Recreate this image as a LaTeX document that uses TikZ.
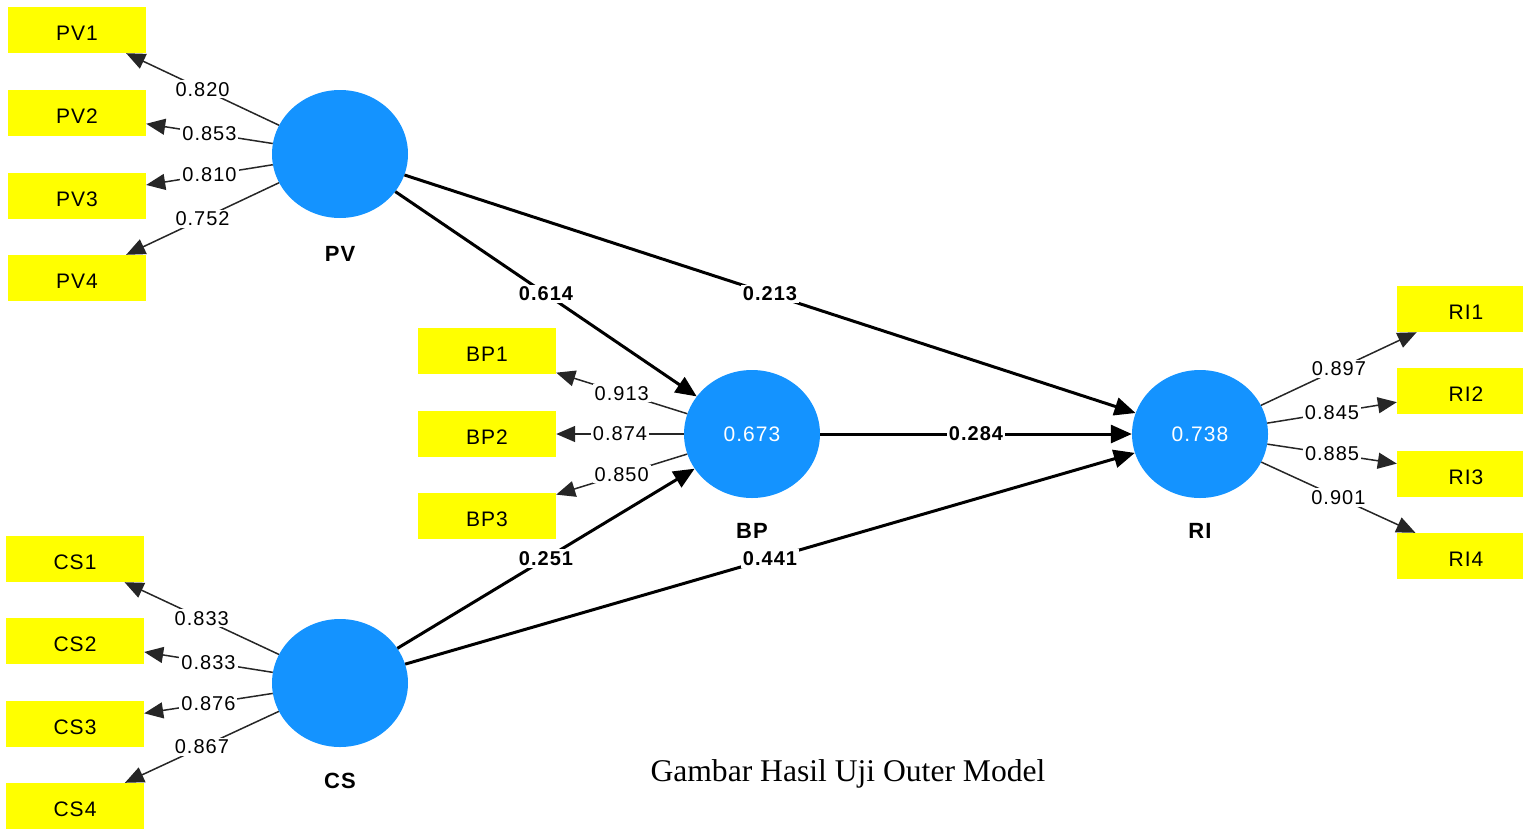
\documentclass[tikz,border=0pt]{standalone}
\usepackage{fontspec}
\setmainfont{Liberation Serif}
\newfontfamily\labfont{Liberation Sans}[LetterSpace=5]
\usetikzlibrary{shapes.geometric,arrows.meta}
\definecolor{lvblue}{RGB}{20,147,255}
\definecolor{indyel}{RGB}{255,255,0}
\tikzset{
  ind/.style={fill=indyel, minimum width=138pt, minimum height=46pt, inner sep=0pt,
    text height=20pt, text depth=0pt, font=\labfont\fontsize{21}{24}\selectfont},
  lv/.style={ellipse, fill=lvblue, minimum width=136pt, minimum height=128pt, inner sep=0pt,
    text=white, font=\labfont\fontsize{21}{24}\selectfont},
  lvname/.style={font=\labfont\bfseries\fontsize{22}{24}\selectfont},
  meas/.style={line width=1.5pt, draw=black!85, -{Triangle[length=19pt,width=16pt]}},
  struct/.style={line width=3pt, -{Triangle[length=21pt,width=18pt]}},
  wlab/.style={fill=white, inner sep=2pt, text=black, font=\labfont\fontsize{20}{22}\selectfont},
  blab/.style={fill=white, inner sep=2pt, font=\labfont\bfseries\fontsize{20}{22}\selectfont}
}
\begin{document}
\begin{tikzpicture}[x=1pt,y=-1pt]
\useasboundingbox (0,0) rectangle (1523,828);
\clip (0,0) rectangle (1523,828);
% latent variables
\node[lv] (PV) at (340,154) {};
\node[lv] (BP) at (752,434) {0.673};
\node[lv] (RI) at (1200,434) {0.738};
\node[lv] (CS) at (340,683) {};
\node[lvname] (PVn) at (340,254) {PV};
\node[lvname] (BPn) at (752,531) {BP};
\node[lvname] (RIn) at (1200,531) {RI};
\node[lvname] (CSn) at (340,781) {CS};
% indicators
\node[ind] (PV1) at (77,30) {PV1};
\node[ind] (PV2) at (77,113) {PV2};
\node[ind] (PV3) at (77,196) {PV3};
\node[ind] (PV4) at (77,278) {PV4};
\node[ind] (BP1) at (487,351) {BP1};
\node[ind] (BP2) at (487,434) {BP2};
\node[ind] (BP3) at (487,516) {BP3};
\node[ind] (CS1) at (75,559) {CS1};
\node[ind] (CS2) at (75,641) {CS2};
\node[ind] (CS3) at (75,724) {CS3};
\node[ind] (CS4) at (75,806) {CS4};
\node[ind] (RI1) at (1466,309) {RI1};
\node[ind] (RI2) at (1466,391) {RI2};
\node[ind] (RI3) at (1466,474) {RI3};
\node[ind] (RI4) at (1466,556) {RI4};
% outer loadings
\draw[meas] (PV) -- node[wlab]{0.820} (PV1);
\draw[meas] (PV) -- node[wlab]{0.853} (PV2);
\draw[meas] (PV) -- node[wlab]{0.810} (PV3);
\draw[meas] (PV) -- node[wlab]{0.752} (PV4);
\draw[meas] (BP) -- node[wlab]{0.913} (BP1);
\draw[meas] (BP) -- node[wlab]{0.874} (BP2);
\draw[meas] (BP) -- node[wlab]{0.850} (BP3);
\draw[meas] (CS) -- node[wlab]{0.833} (CS1);
\draw[meas] (CS) -- node[wlab]{0.833} (CS2);
\draw[meas] (CS) -- node[wlab]{0.876} (CS3);
\draw[meas] (CS) -- node[wlab]{0.867} (CS4);
\draw[meas] (RI) -- node[wlab]{0.897} (RI1);
\draw[meas] (RI) -- node[wlab]{0.845} (RI2);
\draw[meas] (RI) -- node[wlab]{0.885} (RI3);
\draw[meas] (RI) -- node[wlab]{0.901} (RI4);
% inner paths
\draw[struct] (PV) -- node[blab]{0.614} (BP);
\draw[struct] (PV) -- node[blab]{0.213} (RI);
\draw[struct] (BP) -- node[blab]{0.284} (RI);
\draw[struct] (CS) -- node[blab]{0.251} (BP);
\draw[struct] (CS) -- node[blab]{0.441} (RI);
% caption
\node[anchor=base, inner sep=0pt, font=\fontsize{31.6}{36}\selectfont] (cap) at (848,781) {Gambar Hasil Uji Outer Model};
\end{tikzpicture}
\end{document}
